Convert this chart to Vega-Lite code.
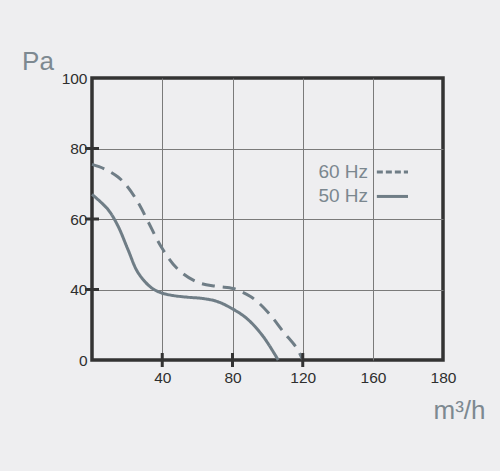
{
  "$schema": "https://vega.github.io/schema/vega-lite/v6.json",
  "width": 351,
  "height": 282,
  "autosize": "none",
  "padding": {"left": 92, "top": 78, "right": 57, "bottom": 111},
  "background": "#eeeef0",
  "config": {
    "view": {"stroke": "#333333", "strokeWidth": 3.5, "fill": null},
    "font": "Liberation Sans"
  },
  "datasets": {
    "curves": [
      {"series": "60 Hz", "q": 0, "p": 75.5},
      {"series": "60 Hz", "q": 7.2, "p": 74.2},
      {"series": "60 Hz", "q": 14.8, "p": 71.9},
      {"series": "60 Hz", "q": 20, "p": 69.3},
      {"series": "60 Hz", "q": 26.2, "p": 64.7},
      {"series": "60 Hz", "q": 31.9, "p": 59.3},
      {"series": "60 Hz", "q": 39.3, "p": 52.2},
      {"series": "60 Hz", "q": 49, "p": 45.7},
      {"series": "60 Hz", "q": 60.4, "p": 42.0},
      {"series": "60 Hz", "q": 71.1, "p": 40.9},
      {"series": "60 Hz", "q": 80.3, "p": 40.3},
      {"series": "60 Hz", "q": 85, "p": 38.8},
      {"series": "60 Hz", "q": 90, "p": 36.2},
      {"series": "60 Hz", "q": 94.5, "p": 32.8},
      {"series": "60 Hz", "q": 101.4, "p": 25.7},
      {"series": "60 Hz", "q": 108.8, "p": 16.2},
      {"series": "60 Hz", "q": 116.6, "p": 6.7},
      {"series": "60 Hz", "q": 120, "p": 0},
      {"series": "50 Hz", "q": 0, "p": 67.0},
      {"series": "50 Hz", "q": 9.1, "p": 62.7},
      {"series": "50 Hz", "q": 14.8, "p": 58.0},
      {"series": "50 Hz", "q": 20.5, "p": 51.3},
      {"series": "50 Hz", "q": 26.2, "p": 44.8},
      {"series": "50 Hz", "q": 33.8, "p": 40.5},
      {"series": "50 Hz", "q": 39.5, "p": 38.1},
      {"series": "50 Hz", "q": 46, "p": 36.6},
      {"series": "50 Hz", "q": 54.7, "p": 35.6},
      {"series": "50 Hz", "q": 63, "p": 34.9},
      {"series": "50 Hz", "q": 71, "p": 33.3},
      {"series": "50 Hz", "q": 78.6, "p": 29.8},
      {"series": "50 Hz", "q": 88.1, "p": 23.6},
      {"series": "50 Hz", "q": 97.5, "p": 13.3},
      {"series": "50 Hz", "q": 106, "p": 0}
    ],
    "legend": [
      {"label": "60 Hz", "qt": 157.2, "q1": 161.1, "q2": 170, "p": 73.3},
      {"label": "50 Hz", "qt": 157.2, "q1": 161.1, "q2": 170, "p": 66.4}
    ],
    "xticks": [{"q": 40, "p": 0}, {"q": 80, "p": 0}, {"q": 120, "p": 0}],
    "yticks": [{"q": 0, "p": 40}, {"q": 0, "p": 60}, {"q": 0, "p": 80}]
  },
  "layer": [
    {
      "data": {"name": "curves"},
      "mark": {"type": "line", "interpolate": "catmull-rom", "strokeWidth": 3, "color": "#6f7d86", "strokeCap": "butt"},
      "encoding": {
        "x": {
          "field": "q", "type": "quantitative",
          "scale": {"domain": [0, 160, 180], "range": [0, 281, 351], "nice": false, "zero": false},
          "axis": {
            "values": [40, 80, 120, 160, 180],
            "title": "m³/h",
            "grid": true, "gridColor": "#7a7a7a", "gridWidth": 1,
            "gridOpacity": {"condition": {"test": "datum.value == 180", "value": 0}, "value": 1},
            "domain": false, "ticks": false,
            "labelFlush": false,
            "labelFont": "Liberation Sans", "labelFontSize": 15.5, "labelColor": "#2e2e2e", "labelPadding": 10,
            "titleFont": "Liberation Sans", "titleFontSize": 26, "titleColor": "#7d8991", "titleFontWeight": "normal",
            "titleX": 367, "titleY": 58, "titleAlign": "center", "titleBaseline": "alphabetic"
          }
        },
        "y": {
          "field": "p", "type": "quantitative",
          "scale": {"domain": [0, 40, 100], "range": [282, 211.5, 0], "nice": false, "zero": false},
          "axis": {
            "values": [0, 40, 60, 80, 100],
            "title": "Pa",
            "grid": true, "gridColor": "#7a7a7a", "gridWidth": 1,
            "gridOpacity": {"condition": {"test": "datum.value == 100 || datum.value == 0", "value": 0}, "value": 1},
            "domain": false, "ticks": false,
            "labelFont": "Liberation Sans", "labelFontSize": 15.5, "labelColor": "#2e2e2e", "labelPadding": 5,
            "labelFlush": false,
            "encode": {"labels": {"update": {"dx": {"signal": "datum.value == 0 || datum.value == 100 ? 0 : -9"}}}},
            "titleFont": "Liberation Sans", "titleFontSize": 26, "titleColor": "#7d8991", "titleFontWeight": "normal",
            "titleAngle": 0, "titleX": -54.5, "titleY": -9, "titleAlign": "center", "titleBaseline": "alphabetic"
          }
        },
        "strokeDash": {
          "field": "series", "type": "nominal",
          "scale": {"domain": ["60 Hz", "50 Hz"], "range": [[13, 8], [1, 0]]},
          "legend": null
        }
      }
    },
    {
      "data": {"name": "legend"},
      "mark": {"type": "text", "align": "right", "baseline": "middle", "font": "Liberation Sans", "fontSize": 19, "color": "#7b878f"},
      "encoding": {
        "x": {"field": "qt", "type": "quantitative"},
        "y": {"field": "p", "type": "quantitative"},
        "text": {"field": "label"}
      }
    },
    {
      "data": {"name": "legend"},
      "transform": [{"filter": "datum.label == '60 Hz'"}],
      "mark": {"type": "rule", "strokeWidth": 3, "color": "#6f7d86", "strokeDash": [6, 3]},
      "encoding": {
        "x": {"field": "q1", "type": "quantitative"},
        "x2": {"field": "q2"},
        "y": {"field": "p", "type": "quantitative"}
      }
    },
    {
      "data": {"name": "legend"},
      "transform": [{"filter": "datum.label == '50 Hz'"}],
      "mark": {"type": "rule", "strokeWidth": 3, "color": "#6f7d86"},
      "encoding": {
        "x": {"field": "q1", "type": "quantitative"},
        "x2": {"field": "q2"},
        "y": {"field": "p", "type": "quantitative"}
      }
    },
    {
      "data": {"name": "xticks"},
      "mark": {"type": "tick", "orient": "vertical", "size": 14, "thickness": 3, "color": "#333333", "opacity": 1},
      "encoding": {
        "x": {"field": "q", "type": "quantitative"},
        "y": {"field": "p", "type": "quantitative"}
      }
    },
    {
      "data": {"name": "yticks"},
      "mark": {"type": "tick", "orient": "horizontal", "size": 14, "thickness": 3, "color": "#333333", "opacity": 1},
      "encoding": {
        "x": {"field": "q", "type": "quantitative"},
        "y": {"field": "p", "type": "quantitative"}
      }
    }
  ]
}
